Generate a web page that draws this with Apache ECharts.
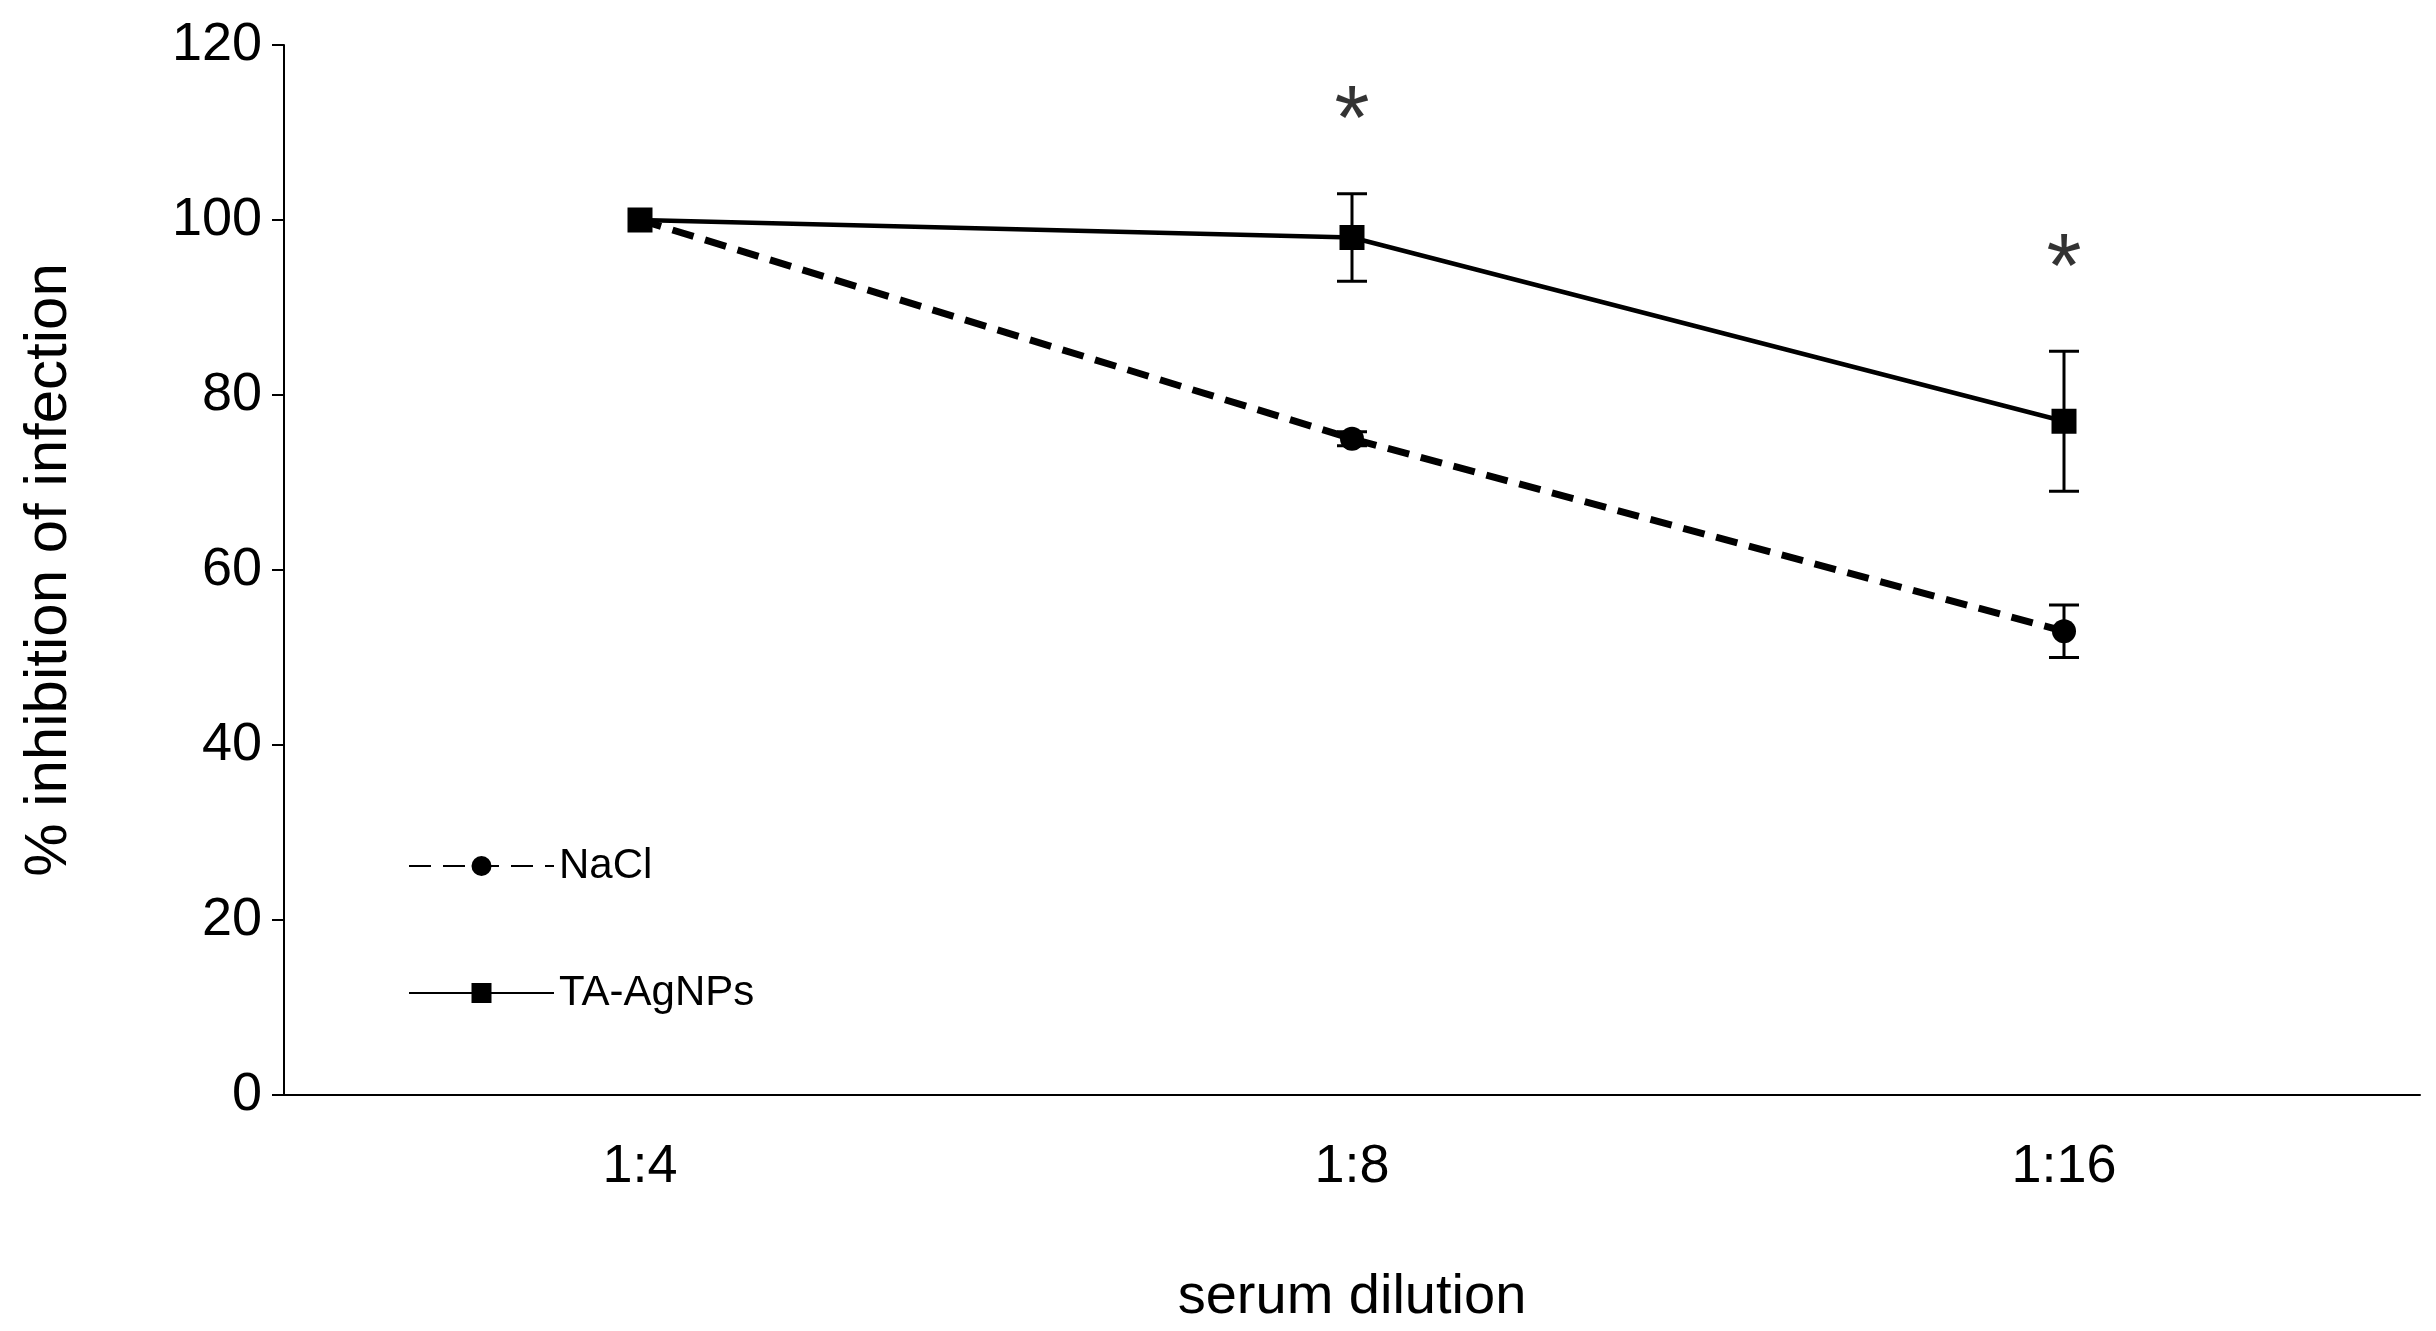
<!DOCTYPE html>
<html><head><meta charset="utf-8">
<script src="https://cdn.jsdelivr.net/npm/echarts@6/dist/echarts.min.js"></script>
<style>html,body{margin:0;padding:0;background:#fff}#c{width:2436px;height:1331px}</style>
</head><body><div id="c"></div>
<script>
const categories = ['1:4', '1:8', '1:16'];
const naclValues = [100, 75, 53];
const naclErrors = [0, 0.8, 3];
const taValues = [100, 98, 77];
const taErrors = [0, 5, 8];
const starValues = [null, 111, 94];
const yTicks = [0, 20, 40, 60, 80, 100, 120];

const font = 'Liberation Sans, Arial, sans-serif';
function errSeries(vals, errs) {
  return {
    type: 'custom', silent: true, z: 1,
    data: vals.map((v, i) => [i, v - errs[i], v + errs[i]]),
    renderItem: function (params, api) {
      if (api.value(2) - api.value(1) < 0.01) return null;
      const lo = api.coord([api.value(0), api.value(1)]);
      const hi = api.coord([api.value(0), api.value(2)]);
      const w = 15;
      const st = { stroke: '#000', lineWidth: 3 };
      return { type: 'group', children: [
        { type: 'line', shape: { x1: lo[0], y1: lo[1], x2: hi[0], y2: hi[1] }, style: st },
        { type: 'line', shape: { x1: lo[0] - w, y1: lo[1], x2: lo[0] + w, y2: lo[1] }, style: st },
        { type: 'line', shape: { x1: hi[0] - w, y1: hi[1], x2: hi[0] + w, y2: hi[1] }, style: st }
      ]};
    }
  };
}
const chart = echarts.init(document.getElementById('c'));
chart.setOption({
  animation: false,
  grid: { left: 284, right: 16, top: 45, bottom: 230 },
  legend: {
    orient: 'vertical', left: 403, top: 840, itemWidth: 145, itemHeight: 25, itemGap: 85,
    textStyle: { fontFamily: font, fontSize: 42, color: '#000' },
    data: [
      { name: 'NaCl', itemStyle: { color: '#000' } },
      { name: 'TA-AgNPs', itemStyle: { color: '#000' } }
    ]
  },
  xAxis: {
    type: 'category', data: categories, boundaryGap: true,
    name: 'serum dilution', nameLocation: 'middle', nameGap: 175,
    nameTextStyle: { fontFamily: font, fontSize: 56, color: '#000' },
    axisLine: { lineStyle: { color: '#000', width: 2 } },
    axisTick: { show: false },
    axisLabel: { fontFamily: font, fontSize: 54, color: '#000', margin: 45 }
  },
  yAxis: {
    type: 'value', min: 0, max: 120, interval: 20,
    name: '% inhibition of infection', nameLocation: 'middle', nameGap: 205,
    nameTextStyle: { fontFamily: font, fontSize: 60, color: '#000' },
    axisLine: { show: true, lineStyle: { color: '#000', width: 2 } },
    axisTick: { show: true, length: 12, lineStyle: { color: '#000', width: 2 } },
    splitLine: { show: false },
    axisLabel: { fontFamily: font, fontSize: 54, color: '#000', margin: 22,
      formatter: v => yTicks.includes(v) ? String(v) : '' }
  },
  series: [
    { name: 'NaCl', type: 'line', data: naclValues, symbol: 'circle', symbolSize: 24,
      lineStyle: { color: '#000', width: 7, type: [22, 12] }, itemStyle: { color: '#000' }, z: 3 },
    { name: 'TA-AgNPs', type: 'line', data: taValues, symbol: 'rect', symbolSize: 25,
      lineStyle: { color: '#000', width: 4.5 }, itemStyle: { color: '#000' }, z: 3 },
    errSeries(naclValues, naclErrors),
    errSeries(taValues, taErrors),
    { type: 'scatter', data: starValues, symbolSize: 1, itemStyle: { color: 'transparent' },
      label: { show: true, position: 'inside', formatter: '*', fontFamily: font, fontSize: 90, color: '#000' } }
  ]
});
</script></body></html>
